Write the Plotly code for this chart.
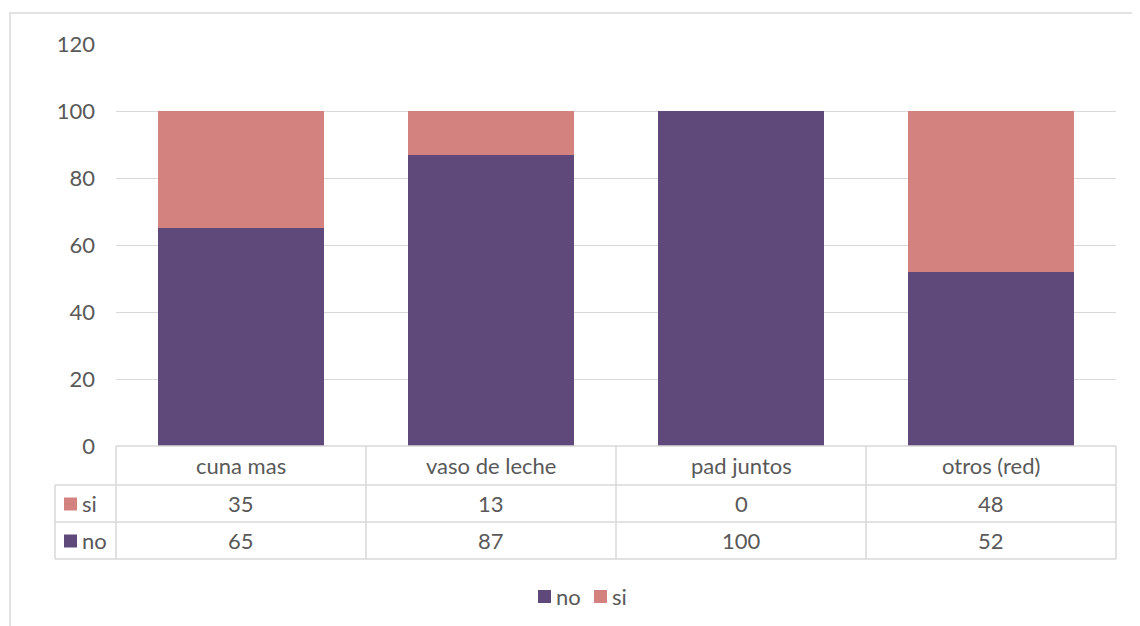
import plotly.graph_objects as go

categories = ["cuna mas", "vaso de leche", "pad juntos", "otros (red)"]
no_values = [65, 87, 100, 52]
si_values = [35, 13, 0, 48]
series_names = ["no", "si"]
colors = {"no": "#5F497A", "si": "#D4827F"}
y_ticks = [0, 20, 40, 60, 80, 100, 120]

OFF = 8  # browser body margin
W, H = 1140 - OFF, 626 - OFF
L, R, T, B = 116, 1116, 44, 446  # plot area in reference px


def px(x):
    return (x - L) / (R - L)


def py(y):
    return (B - y) / (B - T)


FONT = "Lato"
FS = 22
TXT = "#595959"
GRID = "#D9D9D9"

fig = go.Figure()
fig.add_trace(go.Bar(name="no", x=categories, y=no_values, marker_color=colors["no"],
                     marker_line_width=0))
fig.add_trace(go.Bar(name="si", x=categories, y=si_values, marker_color=colors["si"],
                     marker_line_width=0))

shapes = []
annotations = []

# chart border
shapes.append(dict(type="rect", xref="paper", yref="paper",
                   x0=px(10), x1=px(1170), y0=py(660), y1=py(13),
                   line=dict(color=GRID, width=1.5), layer="below"))

# data table
n = len(categories)
row_tops = [446, 485, 522, 559]
left_px = 55
tcol = "#D9D9D9"
lw = 1.5
shapes.append(dict(type="line", xref="paper", yref="paper", x0=0, x1=1,
                   y0=py(row_tops[0]), y1=py(row_tops[0]), line=dict(color=tcol, width=lw)))
for yy in row_tops[1:]:
    shapes.append(dict(type="line", xref="paper", yref="paper", x0=px(left_px), x1=1,
                       y0=py(yy), y1=py(yy), line=dict(color=tcol, width=lw)))
for i in range(n + 1):
    xp = i / n
    shapes.append(dict(type="line", xref="paper", yref="paper", x0=xp, x1=xp,
                       y0=py(row_tops[0]), y1=py(row_tops[-1]), line=dict(color=tcol, width=lw)))
shapes.append(dict(type="line", xref="paper", yref="paper", x0=px(left_px), x1=px(left_px),
                   y0=py(row_tops[1]), y1=py(row_tops[-1]), line=dict(color=tcol, width=lw)))

for c in categories:
    annotations.append(dict(x=c, xref="x", yref="paper",
                            y=py((row_tops[0] + row_tops[1]) / 2), text=c, showarrow=False,
                            font=dict(family=FONT, size=FS, color=TXT), yanchor="middle"))

rows = [("si", si_values, 1), ("no", no_values, 2)]
for name, vals, ri in rows:
    yc = (row_tops[ri] + row_tops[ri + 1]) / 2
    for c, v in zip(categories, vals):
        annotations.append(dict(x=c, xref="x", yref="paper", y=py(yc), text=str(v),
                                showarrow=False, font=dict(family=FONT, size=FS, color=TXT),
                                yanchor="middle"))
    shapes.append(dict(type="rect", xref="paper", yref="paper",
                       x0=px(64), x1=px(77), y0=py(yc + 7), y1=py(yc - 6),
                       fillcolor=colors[name], line=dict(width=0)))
    annotations.append(dict(x=px(80), xref="paper", yref="paper", y=py(yc), text=name,
                            showarrow=False, xanchor="left", yanchor="middle",
                            font=dict(family=FONT, size=FS, color=TXT)))

# bottom legend (drawn manually to match spacing)
leg_y = 596
leg_x = {"no": 538, "si": 594}
for name in series_names:
    x0 = leg_x[name]
    shapes.append(dict(type="rect", xref="paper", yref="paper",
                       x0=px(x0), x1=px(x0 + 13), y0=py(leg_y + 7), y1=py(leg_y - 6),
                       fillcolor=colors[name], line=dict(width=0)))
    annotations.append(dict(x=px(x0 + 16), xref="paper", yref="paper", y=py(leg_y), text=name,
                            showarrow=False, xanchor="left", yanchor="middle",
                            font=dict(family=FONT, size=FS, color=TXT)))

fig.update_layout(
    width=W, height=H,
    margin=dict(l=L - OFF, r=(W + OFF) - R, t=T - OFF, b=(H + OFF) - B),
    paper_bgcolor="white", plot_bgcolor="white",
    barmode="stack", bargap=0.333,
    font=dict(family=FONT, size=FS, color=TXT),
    xaxis=dict(showticklabels=False, showgrid=False, showline=False, zeroline=False,
               range=[-0.5, n - 0.5]),
    yaxis=dict(range=[0, 120], tickvals=y_ticks, showgrid=True, gridcolor=GRID, gridwidth=1,
               zeroline=False, showline=False, ticklabelstandoff=20,
               tickfont=dict(family=FONT, size=FS, color=TXT)),
    shapes=shapes,
    annotations=annotations,
    showlegend=False,
)

fig.write_html("out.html")
